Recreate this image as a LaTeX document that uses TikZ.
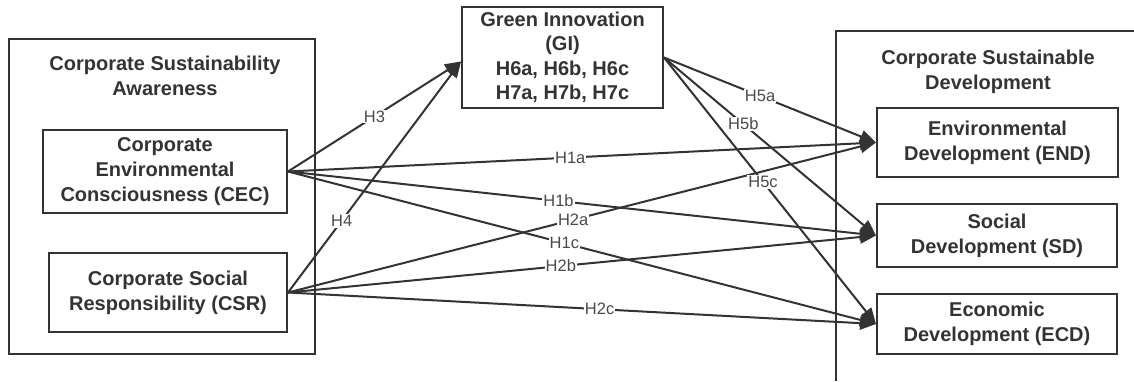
\documentclass[tikz,border=0pt]{standalone}
\usepackage{fontspec}
\setmainfont{Liberation Sans}
\usetikzlibrary{arrows.meta}
\definecolor{ink}{HTML}{333333}
\definecolor{lab}{HTML}{4A4A4A}
\tikzset{
  box/.style={draw=ink, line width=2pt, rectangle, inner sep=0pt, align=center,
    text=ink, font=\fontsize{20}{25}\selectfont\bfseries},
  ttl/.style={align=center, text=ink, font=\fontsize{20}{25}\selectfont\bfseries, inner sep=0pt},
  frame/.style={draw=ink, line width=2pt},
  link/.style={draw=ink, line width=2pt, -{Triangle[length=16pt,width=13pt]}},
  hl/.style={fill=white, text=lab, font=\fontsize{16.5}{18}\selectfont, inner sep=1pt}
}
\begin{document}
\begin{tikzpicture}[x=1pt,y=-1pt]
\useasboundingbox (0,0) rectangle (1134,381);
% left group frame
\draw[frame] (9,39) rectangle (315,354);
\node[ttl] (tl) at (165,76) {Corporate Sustainability\\Awareness};
% right group frame (cut at picture edge)
\draw[frame] (836,381) -- (836,31) -- (1134,31);
\node[ttl] (tr) at (988,72) {Corporate Sustainable\\Development};
% boxes
\node[box, minimum width=244pt, minimum height=83pt] (CEC) at (165,171.5) {Corporate\\Environmental\\Consciousness (CEC)};
\node[box, minimum width=238pt, minimum height=79pt] (CSR) at (168,292.5) {Corporate Social\\Responsibility (CSR)};
\node[box, minimum width=201pt, minimum height=101pt, font=\fontsize{20}{24.5}\selectfont\bfseries] (GI) at (562.5,57.5) {Green Innovation\\(GI)\\H6a, H6b, H6c\\H7a, H7b, H7c};
\node[box, minimum width=241pt, minimum height=69pt] (END) at (997.5,142.5) {Environmental\\Development (END)};
\node[box, minimum width=240pt, minimum height=63pt] (SD) at (997,235.5) {Social\\Development (SD)};
\node[box, minimum width=240pt, minimum height=60pt] (ECD) at (997,324) {Economic\\Development (ECD)};
% connectors
\draw[link] (CEC.east) -- node[hl, pos=0.5] {H3} ([yshift=-4pt]GI.west);
\draw[link] (CSR.east) -- node[hl, pos=0.31] {H4} ([yshift=-4pt]GI.west);
\draw[link] (CEC.east) -- node[hl, pos=0.48] {H1a} (END.west);
\draw[link] (CEC.east) -- node[hl, pos=0.46] {H1b} (SD.west);
\draw[link] (CEC.east) -- node[hl, pos=0.47] {H1c} (ECD.west);
\draw[link] (CSR.east) -- node[hl, pos=0.485] {H2a} (END.west);
\draw[link] (CSR.east) -- node[hl, pos=0.464] {H2b} (SD.west);
\draw[link] (CSR.east) -- node[hl, pos=0.53] {H2c} (ECD.west);
\draw[link] (GI.east) -- node[hl, pos=0.453] {H5a} (END.west);
\draw[link] (GI.east) -- node[hl, pos=0.374] {H5b} (SD.west);
\draw[link] (GI.east) -- node[hl, pos=0.467] {H5c} (ECD.west);
\end{tikzpicture}
\end{document}
